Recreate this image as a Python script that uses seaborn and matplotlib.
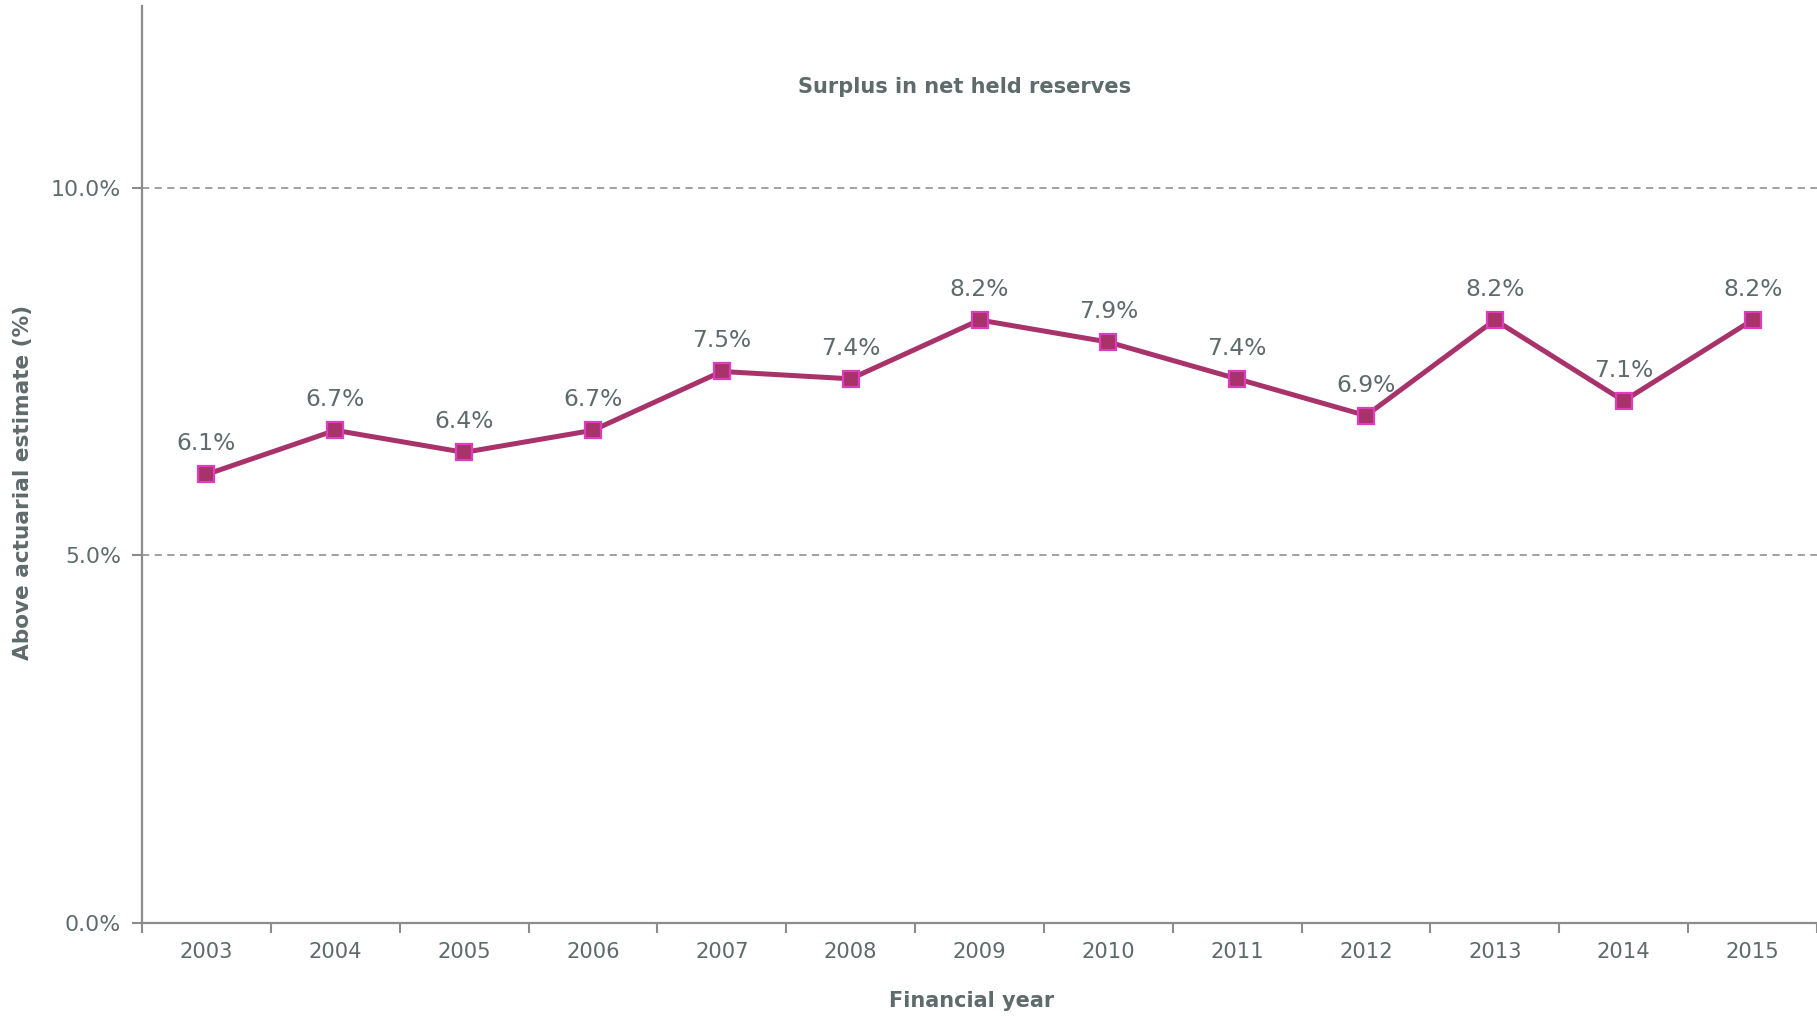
import numpy as np
import pandas as pd
import matplotlib
matplotlib.use("Agg")
import matplotlib.pyplot as plt
from matplotlib.ticker import FixedLocator, FuncFormatter
import seaborn as sns

years = ["2003", "2004", "2005", "2006", "2007", "2008", "2009",
         "2010", "2011", "2012", "2013", "2014", "2015"]
surplus = [6.1, 6.7, 6.4, 6.7, 7.5, 7.4, 8.2, 7.9, 7.4, 6.9, 8.2, 7.1, 8.2]
y_ticks = [0.0, 5.0, 10.0]

title = "Surplus in net held reserves"
x_label = "Financial year"
y_label = "Above actuarial estimate (%)"

TEXT = "#5f6a6a"
LINE = "#a8336a"
EDGE = "#e03cc0"
AXIS = "#8c8c8c"

sns.set_theme(style="white")
plt.rcParams["font.family"] = ["DejaVu Sans"]

df = pd.DataFrame({"pos": np.arange(len(years)), "value": surplus, "year": years})

fig = plt.figure(figsize=(18.17, 10.16), dpi=100)
ax = fig.add_axes([142 / 1817, 93 / 1016, 1 - 142 / 1817, (923 - 6) / 1016])

sns.lineplot(data=df, x="pos", y="value", ax=ax, color=LINE, linewidth=3.6,
             marker="s", markersize=11, markerfacecolor=LINE,
             markeredgecolor=EDGE, markeredgewidth=1.6, zorder=3)

for p, v in zip(df["pos"], df["value"]):
    ax.annotate(f"{v:.1f}%", (p, v), xytext=(0, 22), textcoords="offset points",
                ha="center", va="center", fontsize=16.8, color=TEXT)

ax.set_xlim(-0.5, len(years) - 0.5)
ax.set_ylim(0, 12.47)

ax.set_xticks(df["pos"])
ax.set_xticklabels(years)
ax.xaxis.set_minor_locator(FixedLocator(np.arange(-0.5, len(years), 1.0)))
ax.tick_params(axis="x", which="major", length=0, pad=14, labelsize=15.2, labelcolor=TEXT)
ax.tick_params(axis="x", which="minor", length=7, width=1.5, color=AXIS,
               direction="out", bottom=True)

ax.set_yticks(y_ticks)
ax.yaxis.set_major_formatter(FuncFormatter(lambda v, _: f"{v:.1f}%"))
ax.tick_params(axis="y", which="major", length=7, width=1.5, color=AXIS,
               direction="out", pad=8, labelsize=15.8, labelcolor=TEXT, left=True)

for yt in y_ticks[1:]:
    ax.axhline(yt, color="#9a9a9a", linewidth=1.3, linestyle=(0, (4, 3)), zorder=1)

for s in ["top", "right"]:
    ax.spines[s].set_visible(False)
for s in ["left", "bottom"]:
    ax.spines[s].set_color(AXIS)
    ax.spines[s].set_linewidth(1.6)

ax.set_xlabel("")
ax.set_ylabel("")

fig.text(965 / 1817, 1 - 87 / 1016, title, ha="center", va="center",
         fontsize=15, fontweight="bold", color=TEXT)
fig.text(972 / 1817, 1 - 1001 / 1016, x_label, ha="center", va="center",
         fontsize=15, fontweight="bold", color=TEXT)
fig.text(23 / 1817, 1 - 482 / 1016, y_label, ha="center", va="center",
         rotation=90, fontsize=15.6, fontweight="bold", color=TEXT,
         family=["Liberation Sans Narrow", "DejaVu Sans"])

fig.savefig("out.png", dpi=100)
